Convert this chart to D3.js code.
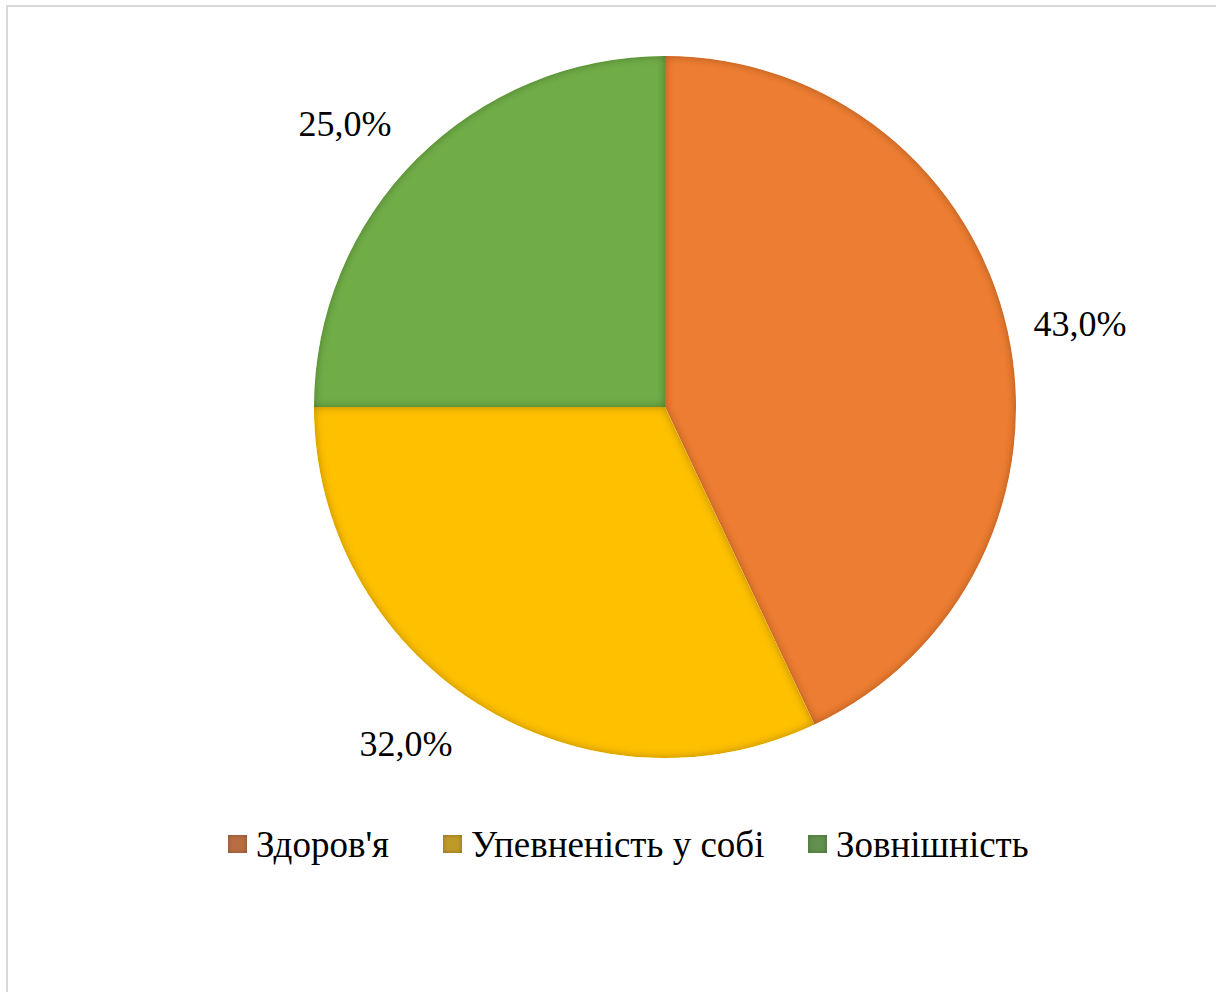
<!DOCTYPE html>
<html>
<head>
<meta charset="utf-8">
<script src="https://cdn.jsdelivr.net/npm/d3@7"></script>
<style>
  html, body { margin: 0; padding: 0; background: #fff; }
  svg { display: block; }
</style>
</head>
<body>
<svg id="chart" width="1216" height="992"></svg>
<script>
// Slice categories and shares (percent)
const categories = ["Здоров'я", "Упевненість у собі", "Зовнішність"];
const values = [43.0, 32.0, 25.0];
const labels = ["43,0%", "32,0%", "25,0%"];
const colors = ["#ED7D31", "#FFC000", "#70AD47"];
const legendColors = ["#B96D42", "#BE9A28", "#62904D"];

const FONT = "'Liberation Serif', 'Times New Roman', serif";

const svg = d3.select("#chart");

// Chart area frame
svg.append("rect")
  .attr("x", 7).attr("y", 6)
  .attr("width", 1400).attr("height", 1200)
  .attr("fill", "none")
  .attr("stroke", "#d9d9d9")
  .attr("stroke-width", 2);

// Soft inner shading along shape edges
const defs = svg.append("defs");
function innerEdge(id, blur, opacity) {
  const f = defs.append("filter").attr("id", id)
    .attr("x", "-10%").attr("y", "-10%").attr("width", "120%").attr("height", "120%");
  f.append("feGaussianBlur").attr("in", "SourceAlpha").attr("stdDeviation", blur).attr("result", "blur");
  f.append("feComposite").attr("in", "SourceAlpha").attr("in2", "blur")
    .attr("operator", "arithmetic").attr("k2", 1).attr("k3", -1).attr("result", "edge");
  f.append("feFlood").attr("flood-color", "#000").attr("flood-opacity", opacity).attr("result", "col");
  f.append("feComposite").attr("in", "col").attr("in2", "edge").attr("operator", "in").attr("result", "shade");
  f.append("feComposite").attr("in", "shade").attr("in2", "SourceGraphic").attr("operator", "over");
}
innerEdge("innerEdge", 5, 0.6);
innerEdge("markerEdge", 2.5, 0.55);

const cx = 665, cy = 407, r = 351;

const pie = d3.pie().sort(null).value(d => d.value);
const data = categories.map((c, i) => ({ name: c, value: values[i], label: labels[i], color: colors[i] }));
const arcs = pie(data);
const arc = d3.arc().innerRadius(0).outerRadius(r);

const g = svg.append("g").attr("transform", `translate(${cx},${cy})`);
g.selectAll("path.slice")
  .data(arcs)
  .join("path")
  .attr("class", "slice")
  .attr("d", arc)
  .attr("fill", d => d.data.color)
  .attr("filter", "url(#innerEdge)");

// Percent labels outside the pie
const labelPos = [[1080, 336], [406, 756], [345, 136]];
svg.selectAll("text.pct")
  .data(arcs)
  .join("text")
  .attr("class", "pct")
  .attr("x", (d, i) => labelPos[i][0])
  .attr("y", (d, i) => labelPos[i][1])
  .attr("text-anchor", "middle")
  .attr("font-family", FONT)
  .attr("font-size", 36)
  .attr("fill", "#000")
  .text(d => d.data.label);

// Legend
const legendItems = [
  { x: 228, tx: 256 },
  { x: 443, tx: 471 },
  { x: 808, tx: 836 }
];
const lg = svg.append("g");
legendItems.forEach((it, i) => {
  lg.append("rect")
    .attr("x", it.x).attr("y", 835)
    .attr("width", 19).attr("height", 18)
    .attr("fill", legendColors[i])
    .attr("filter", "url(#markerEdge)");
  lg.append("text")
    .attr("x", it.tx).attr("y", 857)
    .attr("font-family", FONT)
    .attr("font-size", 37)
    .attr("fill", "#000")
    .text(categories[i]);
});
</script>
</body>
</html>
